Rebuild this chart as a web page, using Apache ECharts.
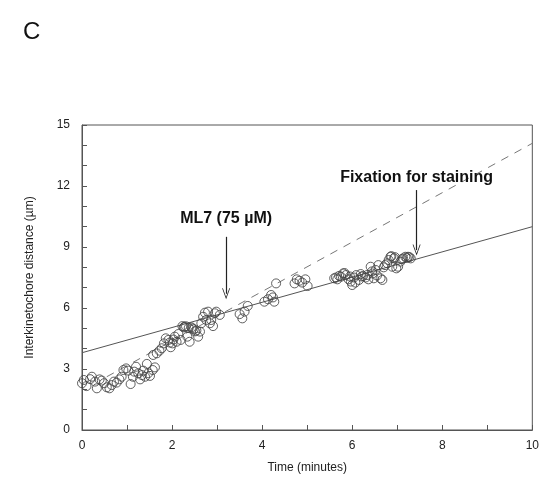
<!DOCTYPE html>
<html><head><meta charset="utf-8">
<script src="https://cdn.jsdelivr.net/npm/echarts@6/dist/echarts.min.js"></script>
<style>html,body{margin:0;padding:0;background:#fff}#c{width:542px;height:485px}</style>
</head><body><div id="c"></div>
<script>
// Time (minutes)
var times = [0,0.04,0.1,0.18,0.22,0.29,0.33,0.39,0.44,0.49,0.55,0.61,0.66,0.71,0.77,0.83,0.88,0.92,0.98,1.03,1.08,1.13,1.16,1.2,1.25,1.29,1.33,1.36,1.4,1.44,1.47,1.51,1.57,1.62,1.58,1.66,1.72,1.77,1.82,1.86,1.92,1.97,2.01,2.06,2.1,2.14,2.19,2.23,2.28,2.34,2.39,2.43,2.48,2.54,2.58,2.62,2.65,2.69,2.73,2.76,2.8,2.84,2.87,2.91,2.95,2.98,3.06,
2.26,2.31,2.37,2.45,2.51,1.95,2.03,
3.5,3.56,3.61,3.68,
4.05,4.13,4.2,4.24,4.27,4.31,
4.72,4.77,4.83,4.89,4.96,5.01,
5.6,5.67,5.75,5.8,5.86,5.92,5.97,6.0,6.04,6.09,6.15,6.19,6.24,6.3,6.36,6.41,6.45,6.48,6.52,6.58,6.63,6.67,6.73,6.78,6.81,6.85,6.89,6.93,6.98,7.02,7.07,7.13,7.18,7.24,7.3,
5.64,5.71,5.83,5.95,6.07,6.21,6.33,6.44,6.55,6.7,6.87,6.95,7.1,7.21,7.27];
// Interkinetochore distance (µm)
var distances = [2.3,2.46,2.16,2.5,2.62,2.38,2.05,2.49,2.43,2.3,2.1,2.05,2.21,2.38,2.33,2.49,2.62,2.95,3.03,2.92,2.26,2.62,2.87,3.11,2.79,2.49,2.7,2.92,2.62,3.25,2.79,2.66,2.95,3.08,3.69,3.77,3.9,4.02,4.26,4.51,4.43,4.07,4.26,4.59,4.34,4.72,4.43,5.11,5.08,4.59,4.34,5.05,4.95,4.89,4.59,4.84,5.25,5.57,5.77,5.41,5.82,5.25,5.41,5.11,5.74,5.82,5.66,
5.05,5.1,5.02,5.0,4.85,4.3,4.45,
5.7,5.49,5.82,6.1,
6.31,6.43,6.64,6.52,6.31,7.21,
7.21,7.41,7.34,7.25,7.41,7.08,
7.46,7.41,7.54,7.7,7.62,7.41,7.3,7.13,7.5,7.62,7.38,7.67,7.57,7.5,7.41,8.03,7.7,7.46,7.87,8.11,7.46,7.38,8.11,8.2,8.36,8.52,8.03,8.44,7.95,8.03,8.28,8.44,8.52,8.52,8.44,
7.5,7.58,7.72,7.55,7.25,7.55,7.62,7.8,7.6,8.0,8.55,8.5,8.4,8.46,8.5];
// Fitted lines
var solidFitX = [0, 10];
var solidFitY = [3.8, 10.0];
var dashedFitX = [0.55, 10];
var dashedFitY = [2.62, 14.1];
// Annotations
var annoLabels = ['ML7 (75 µM)', 'Fixation for staining'];
var annoX = [3.2, 7.43];
var annoTextY = [10.38, 12.4];
var arrowTopY = [9.5, 11.8];
var arrowBottomY = [6.7, 8.85];
// Ticks
var yTickLabels = [0,3,6,9,12,15];
var xTickLabels = [0,2,4,6,8,10];

var pts = times.map(function(t,i){return [t, distances[i]];});
var chev = 'path://M0,10 L5,0 L10,10 L9,10 L5,2 L1,10 Z';

var chart = echarts.init(document.getElementById('c'));
chart.setOption({
  animation:false,
  backgroundColor:'#fff',
  title:{text:'C', left:18, top:15, textStyle:{fontFamily:'Liberation Sans', fontSize:24, fontWeight:'normal', color:'#111'}},
  grid:{left:82, right:8, top:125, bottom:55, show:true, borderColor:'#555', borderWidth:1},
  xAxis:{type:'value', min:0, max:10, interval:2,
    name:'Time (minutes)', nameLocation:'middle', nameGap:32,
    nameTextStyle:{fontFamily:'Liberation Sans', fontSize:12, color:'#222'},
    axisLine:{lineStyle:{color:'#555'}},
    axisTick:{inside:true, length:5, lineStyle:{color:'#555'}},
    minorTick:{show:true, splitNumber:2, length:5, lineStyle:{color:'#555'}},
    splitLine:{show:false},
    axisLabel:{margin:10, fontFamily:'Liberation Sans', fontSize:12, color:'#222',
      formatter:function(v){return xTickLabels.indexOf(v)>=0?String(v):'';}}
  },
  yAxis:{type:'value', min:0, max:15, interval:3,
    name:'Interkinetochore distance (µm)', nameLocation:'middle', nameGap:46,
    nameTextStyle:{fontFamily:'Liberation Sans', fontSize:12, color:'#222'},
    axisLine:{show:true, lineStyle:{color:'#555'}},
    axisTick:{show:true, inside:true, length:5, lineStyle:{color:'#555'}},
    minorTick:{show:true, splitNumber:3, length:5, lineStyle:{color:'#555'}},
    splitLine:{show:false},
    axisLabel:{margin:12, fontFamily:'Liberation Sans', fontSize:12, color:'#222',
      formatter:function(v){return yTickLabels.indexOf(v)>=0?String(v):'';}}
  },
  series:[
    {type:'line', data:solidFitX.map(function(x,i){return [x, solidFitY[i]];}), symbol:'none',
      lineStyle:{color:'#555', width:1}, z:2},
    {type:'line', data:dashedFitX.map(function(x,i){return [x, dashedFitY[i]];}), symbol:'none',
      lineStyle:{color:'#777', width:1, type:[8,7]}, z:2},
    {type:'scatter', data:pts, symbol:'circle', symbolSize:9,
      itemStyle:{color:'rgba(0,0,0,0)', borderColor:'#444', borderWidth:1, opacity:0.85}, z:3},
    {type:'scatter', data:[], silent:true,
      markLine:{silent:true, symbol:['none', chev], symbolSize:[8,11],
        lineStyle:{color:'#222', width:1.2, type:'solid'}, label:{show:false},
        data:annoX.map(function(x,i){return [{coord:[x, arrowTopY[i]]},{coord:[x, arrowBottomY[i]]}];})},
      markPoint:{silent:true, symbol:'circle', symbolSize:0,
        label:{show:true, position:'inside', fontFamily:'Liberation Sans', fontWeight:'bold', fontSize:16, color:'#111',
          formatter:function(p){return p.name;}},
        data:annoX.map(function(x,i){return {name:annoLabels[i], coord:[x, annoTextY[i]]};})}
    }
  ]
});
</script></body></html>
